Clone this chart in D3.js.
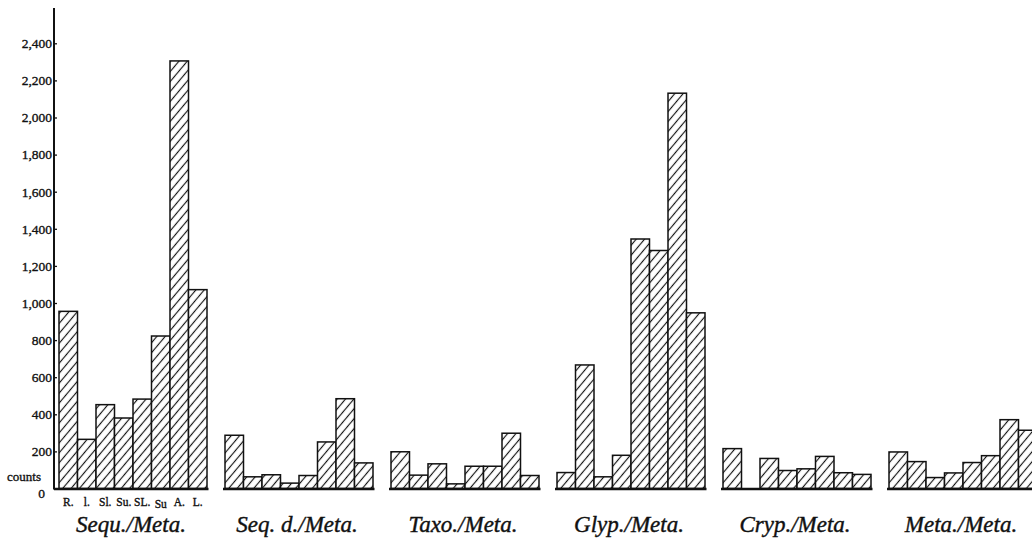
<!DOCTYPE html>
<html>
<head>
<meta charset="utf-8">
<script src="https://cdn.jsdelivr.net/npm/d3@7"></script>
<style>
  html, body { margin: 0; padding: 0; background: #ffffff; }
  svg { display: block; }
  svg text { font-family: "Liberation Serif", "DejaVu Serif", "Times New Roman", Times, serif; fill: #111; stroke: #111; stroke-width: 0.35px; }
  svg text.title { font-style: italic; stroke-width: 0.4px; }
</style>
</head>
<body>
<svg id="chart" width="1032" height="540"></svg>
<script>
// ---- data ----
const groups = ["Sequ./Meta.", "Seq. d./Meta.", "Taxo./Meta.", "Glyp./Meta.", "Cryp./Meta.", "Meta./Meta."];
const categories = ["R.", "l.", "Sl.", "Su.", "SL.", "Su", "A.", "L."];
const sequMeta = [955, 265, 452, 380, 482, 822, 2305, 1072];
const seqdMeta = [287, 63, 74, 29, 70, 251, 484, 138];
const taxoMeta = [198, 72, 133, 25, 120, 120, 298, 70];
const glypMeta = [86, 666, 63, 179, 1345, 1283, 2131, 947];
const crypMeta = [215, 0, 162, 97, 106, 173, 85, 76];
const metaMeta = [197, 145, 59, 84, 140, 177, 371, 314];
const tickValues = [200, 400, 600, 800, 1000, 1200, 1400, 1600, 1800, 2000, 2200, 2400];
const tickLabels = ["200", "400", "600", "800", "1,000", "1,200", "1,400", "1,600", "1,800", "2,000", "2,200", "2,400"];
const yAxisTop = 2590;

const seriesByGroup = [sequMeta, seqdMeta, taxoMeta, glypMeta, crypMeta, metaMeta];

// ---- layout ----
const svg = d3.select("#chart");

const y = d3.scaleLinear().domain([0, 2400]).range([488.5, 43.3]);
const xGroup = d3.scaleBand().domain(groups).range([59, 1037]).paddingInner(18 / 166).paddingOuter(0);
const xCat = d3.scaleBand().domain(categories).range([0, xGroup.bandwidth()]).padding(0);

// hatch pattern
const defs = svg.append("defs");
const pat = defs.append("pattern")
  .attr("id", "hatch")
  .attr("patternUnits", "userSpaceOnUse")
  .attr("width", 6.4).attr("height", 6.4)
  .attr("patternTransform", "rotate(40)");
pat.append("rect").attr("width", 6.4).attr("height", 6.4).attr("fill", "#fff");
pat.append("line")
  .attr("x1", 3.2).attr("y1", 0).attr("x2", 3.2).attr("y2", 6.4)
  .attr("stroke", "#111").attr("stroke-width", 1.15);

// y axis
const axisX = 54;
const axis = d3.axisLeft(y)
  .tickValues(tickValues)
  .tickFormat((d, i) => tickLabels[i])
  .tickSizeInner(-3)
  .tickSizeOuter(0)
  .tickPadding(2);
const gAxis = svg.append("g").attr("transform", `translate(${axisX},0)`).call(axis);
gAxis.attr("font-family", null).attr("font-size", null);
gAxis.select(".domain").remove();
gAxis.selectAll(".tick line").attr("stroke", "#111").attr("stroke-width", 1.3);
gAxis.selectAll(".tick text")
  .attr("fill", null)
  .style("font-size", "13.5px");

svg.append("line")
  .attr("x1", axisX).attr("x2", axisX)
  .attr("y1", y(yAxisTop)).attr("y2", y(0) + 1)
  .attr("stroke", "#111").attr("stroke-width", 2);

svg.append("text")
  .attr("x", axisX - 9).attr("y", y(0) + 9)
  .attr("text-anchor", "end")
  .style("font-size", "13.5px")
  .text("0");
svg.append("text")
  .attr("x", 7).attr("y", y(0) - 8)
  .style("font-size", "13px")
  .text("counts");

// groups
groups.forEach((g, gi) => {
  const gx = xGroup(g);
  const gg = svg.append("g").attr("transform", `translate(${gx},0)`);
  const vals = seriesByGroup[gi];
  gg.selectAll("rect.bar")
    .data(vals.map((v, i) => ({ c: categories[i], v })))
    .join("rect")
    .attr("class", "bar")
    .attr("x", d => xCat(d.c))
    .attr("y", d => y(d.v))
    .attr("width", xCat.bandwidth())
    .attr("height", d => y(0) - y(d.v))
    .attr("fill", "url(#hatch)")
    .attr("stroke", d => d.v > 0 ? "#111" : "none")
    .attr("stroke-width", 1.5);
  // baseline
  const bx0 = gi === 0 ? axisX - gx : -2;
  gg.append("line")
    .attr("x1", bx0).attr("x2", xGroup.bandwidth() + 1.5)
    .attr("y1", y(0) + 0.5).attr("y2", y(0) + 0.5)
    .attr("stroke", "#111").attr("stroke-width", 2.4);
  // title
  gg.append("text")
    .attr("class", "title")
    .attr("x", xGroup.bandwidth() / 2 - 2)
    .attr("y", 532)
    .attr("text-anchor", "middle")
    .style("font-size", "23px")
    .text(g);
  // category labels only under the first group
  if (gi === 0) {
    gg.selectAll("text.cat")
      .data(categories)
      .join("text")
      .attr("class", "cat")
      .attr("x", d => xCat(d) + xCat.bandwidth() / 2)
      .attr("y", d => y(0) + (d === "Su" ? 19 : 17))
      .attr("text-anchor", "middle")
      .style("font-size", "11.5px")
      .text(d => d);
  }
});
</script>
</body>
</html>
